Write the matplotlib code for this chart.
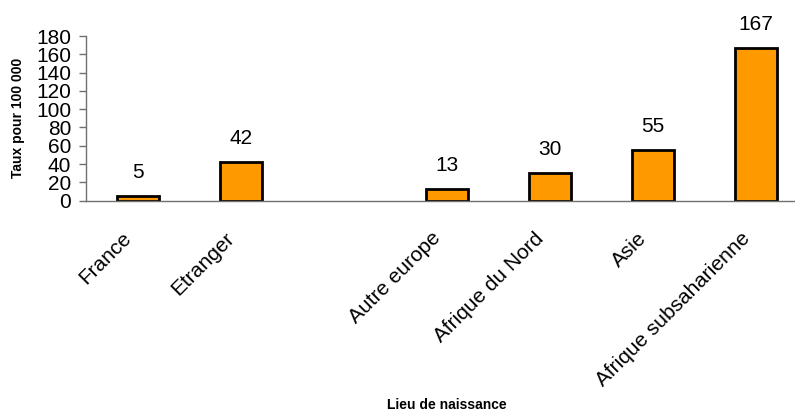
import matplotlib
matplotlib.use('Agg')
import matplotlib.pyplot as plt
import matplotlib.transforms as mtransforms
import numpy as np

plt.rcParams['font.family'] = ['Liberation Sans', 'DejaVu Sans']

# 数据
categories = ['France', 'Etranger', '', 'Autre europe', 'Afrique du Nord', 'Asie', 'Afrique subsaharienne']
taux = [5, 42, np.nan, 13, 30, 55, 167]
y_ticks = [0, 20, 40, 60, 80, 100, 120, 140, 160, 180]

fig = plt.figure(figsize=(7.95, 4.12), dpi=100)
ax = fig.add_axes([0.1088, 0.5129, 0.907, 0.3997])

x = np.arange(len(categories))
vals = np.array(taux, dtype=float)
mask = ~np.isnan(vals)

bars = ax.bar(x[mask], vals[mask], width=0.41, color='#FF9900', edgecolor='black', linewidth=2)

# 数值标签
for xi, v in zip(x[mask], vals[mask]):
    ax.annotate(f'{int(v)}', (xi, v), xytext=(0, 10), textcoords='offset points',
                ha='center', va='bottom', fontsize=15)

ax.set_xlim(-0.5, len(categories) - 0.5)
ax.set_ylim(0, 180)
ax.set_yticks(y_ticks)
ax.tick_params(axis='y', labelsize=15, length=5, width=1, color='#707070', pad=6)
ax.set_xticks(x)
ax.set_xticklabels(categories, rotation=45, ha='right', va='top', rotation_mode='anchor', fontsize=15)
ax.tick_params(axis='x', length=0, pad=10)

# 平移x轴标签
offset = mtransforms.ScaledTranslation(-16 / 100, -14 / 100, fig.dpi_scale_trans)
for lbl in ax.get_xticklabels():
    lbl.set_transform(lbl.get_transform() + offset)

for s in ['top', 'right']:
    ax.spines[s].set_visible(False)
for s in ['left', 'bottom']:
    ax.spines[s].set_color('#707070')
    ax.spines[s].set_linewidth(1)

fig.text(18 / 795, 1 - 117.5 / 412, 'Taux pour 100 000', rotation=90, ha='center', va='center',
         fontsize=10, fontweight='bold')
fig.text(447 / 795, 1 - 405 / 412, 'Lieu de naissance', ha='center', va='center',
         fontsize=10, fontweight='bold')

fig.savefig('out.png', dpi=100, facecolor='white')
